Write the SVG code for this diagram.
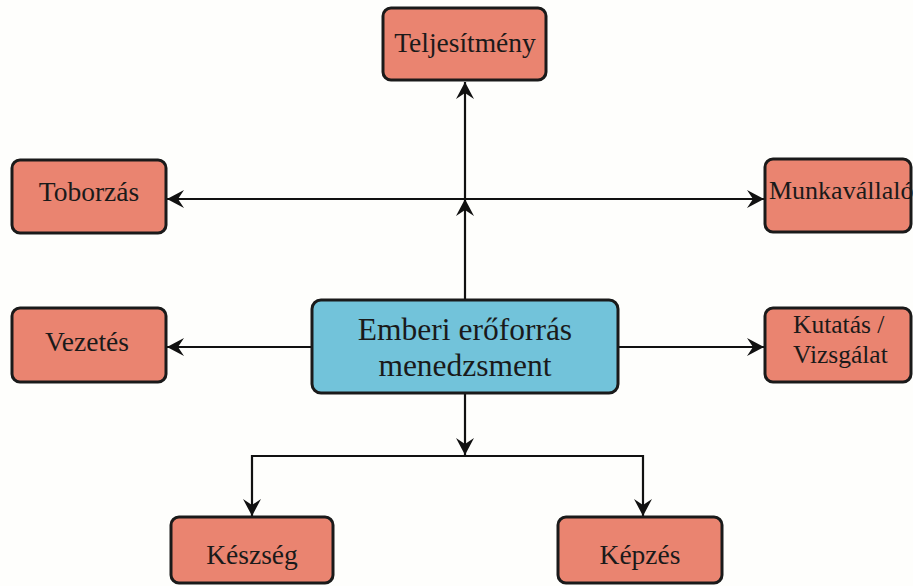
<svg xmlns="http://www.w3.org/2000/svg" width="913" height="586" viewBox="0 0 913 586">
<style>
.box{fill:#EA8470;stroke:#1a1a1a;stroke-width:3}
.center{fill:#72C3DA;stroke:#1a1a1a;stroke-width:3}
.t{font-size:27.5px;fill:#1a1a1a;text-anchor:middle}
.tc{font-size:31.5px;fill:#1a1a1a;text-anchor:middle}
.k{font-size:25.5px;fill:#1a1a1a;text-anchor:start}
.c{fill:none;stroke:#111;stroke-width:2.2;marker-end:url(#arr)}
</style>
<defs>
<marker id="arr" viewBox="0 0 17 18" refX="17" refY="9" markerWidth="17" markerHeight="18" markerUnits="userSpaceOnUse" orient="auto">
<path d="M0,0 L17,9 L0,18 L6,9 z" fill="#111"/>
</marker>
</defs>
<rect width="913" height="586" fill="#fefefc"/>
<g id="connectors">
<path class="c" d="M465,300 L465,199"/>
<path class="c" d="M465,199 L465,82"/>
<path class="c" d="M465,199 L167,199"/>
<path class="c" d="M465,199 L764,199"/>
<path class="c" d="M312,347 L167,347"/>
<path class="c" d="M618,347 L764,347"/>
<path class="c" d="M465,393 L465,455"/>
<path class="c" d="M465,456 L252,456 L252,516"/>
<path class="c" d="M465,456 L643,456 L643,516"/>
</g>
<g font-family="Liberation Serif, Times New Roman, DejaVu Serif, serif">
<g id="teljesitmeny">
<rect class="box" x="383" y="8" width="163" height="72" rx="8"/>
<text class="t" x="465" y="52">Teljesítmény</text>
</g>
<g id="toborzas">
<rect class="box" x="12" y="160" width="154" height="73" rx="8"/>
<text class="t" x="89" y="201">Toborzás</text>
</g>
<g id="munkavallalo">
<rect class="box" x="765" y="159" width="146" height="73" rx="8"/>
<text class="k" x="769" y="199" style="font-size:26px">Munkavállaló</text>
</g>
<g id="emberi">
<rect class="center" x="312" y="300" width="306" height="93" rx="9"/>
<text class="tc" x="465" y="340">Emberi erőforrás</text>
<text class="tc" x="465" y="376">menedzsment</text>
</g>
<g id="vezetes">
<rect class="box" x="12" y="308" width="154" height="74" rx="8"/>
<text class="t" x="87" y="351">Vezetés</text>
</g>
<g id="kutatas">
<rect class="box" x="765" y="308" width="146" height="74" rx="8"/>
<text class="k" x="793" y="333">Kutatás /</text>
<text class="k" x="793" y="363">Vizsgálat</text>
</g>
<g id="keszseg">
<rect class="box" x="171" y="517" width="162" height="66" rx="8"/>
<text class="t" x="252" y="564">Készség</text>
</g>
<g id="kepzes">
<rect class="box" x="558" y="517" width="164" height="66" rx="8"/>
<text class="t" x="640" y="564">Képzés</text>
</g>
</g>
</svg>
